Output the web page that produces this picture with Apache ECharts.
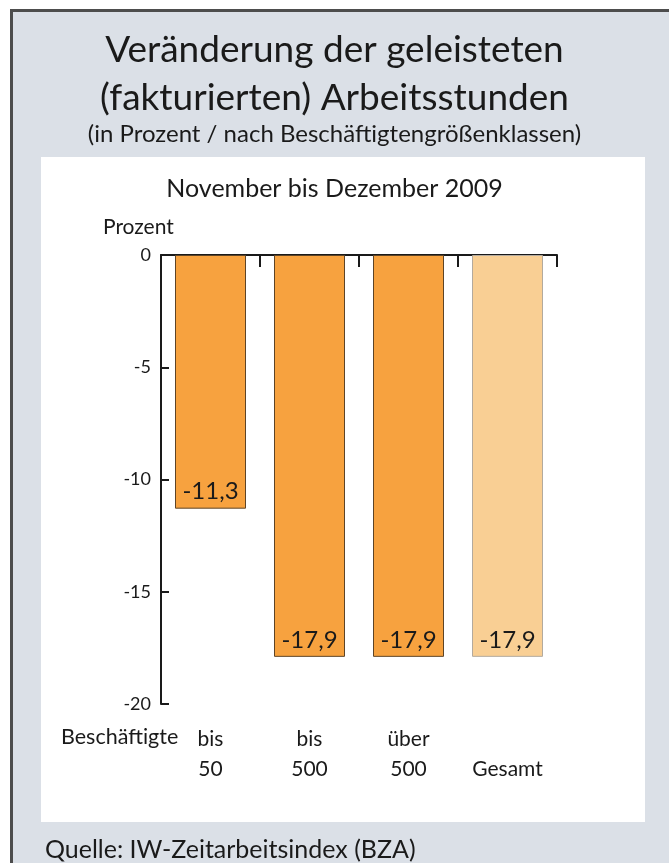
<!DOCTYPE html>
<html>
<head>
<meta charset="utf-8">
<script src="https://cdn.jsdelivr.net/npm/echarts@6/dist/echarts.min.js"></script>
<style>
  html, body { margin: 0; padding: 0; background: #fff; }
  #chart { width: 669px; height: 863px; }
</style>
</head>
<body>
<div id="chart"></div>
<script>
// Beschäftigtengrößenklassen
const categories = ['bis\n50', 'bis\n500', 'über\n500', '\nGesamt']
// Veränderung in Prozent
const values = [-11.3, -17.9, -17.9, -17.9]
const yTicks = { min: -20, max: 0, interval: 5 }
// the last bar (Gesamt) is drawn lighter
const totalIndex = 3

const FONT = 'Lato, "Open Sans", sans-serif'
const TEXT = '#1a1a1a'
const ORANGE = '#f7a23f'
const LIGHT = '#f9cf94'

const chart = echarts.init(document.getElementById('chart'))

chart.setOption({
  backgroundColor: '#fff',
  textStyle: { fontFamily: FONT },
  animation: false,
  title: [
    {
      text: 'Veränderung der geleisteten\n(fakturierten) Arbeitsstunden',
      left: 'center',
      top: 21,
      textStyle: { fontFamily: FONT, fontSize: 37, fontWeight: 'normal', color: TEXT, lineHeight: 48 }
    },
    {
      text: '(in Prozent / nach Beschäftigtengrößenklassen)',
      left: 'center',
      top: 117,
      textStyle: { fontFamily: FONT, fontSize: 24, fontWeight: 'normal', color: TEXT }
    },
    {
      text: 'November bis Dezember 2009',
      left: 'center',
      top: 171,
      textStyle: { fontFamily: FONT, fontSize: 25, fontWeight: 'normal', color: TEXT }
    },
    {
      text: 'Quelle: IW-Zeitarbeitsindex (BZA)',
      left: 40,
      top: 832,
      textStyle: { fontFamily: FONT, fontSize: 25, fontWeight: 'normal', color: TEXT }
    }
  ],
  graphic: [
    { type: 'rect', z: -10, shape: { x: 10, y: 9, width: 700, height: 900 }, style: { fill: '#dbe0e7' } },
    { type: 'rect', z: -9, shape: { x: 10, y: 9, width: 700, height: 3 }, style: { fill: '#4d4d4d' } },
    { type: 'rect', z: -9, shape: { x: 10, y: 9, width: 3, height: 900 }, style: { fill: '#4d4d4d' } },
    { type: 'rect', z: -8, shape: { x: 41, y: 157, width: 604, height: 665 }, style: { fill: '#fff' } },
    {
      type: 'text', left: 103, top: 217,
      style: { text: 'Prozent', font: '21px ' + FONT, fill: TEXT }
    },
    {
      type: 'text', left: 61, top: 726,
      style: { text: 'Beschäftigte', font: '21.5px ' + FONT, fill: TEXT }
    }
  ],
  grid: { left: 161, right: 112, top: 255, bottom: 159 },
  xAxis: [
    {
      type: 'category',
      position: 'top',
      data: categories,
      axisLine: { show: true, lineStyle: { color: TEXT, width: 2 } },
      axisTick: { show: true, inside: true, length: 12, alignWithLabel: false, lineStyle: { color: TEXT, width: 2 } },
      axisLabel: { show: false }
    },
    {
      type: 'category',
      position: 'bottom',
      data: categories,
      axisLine: { show: false },
      axisTick: { show: false },
      axisLabel: { margin: 20, fontSize: 21, lineHeight: 30, color: TEXT, fontFamily: FONT }
    }
  ],
  yAxis: {
    type: 'value',
    min: yTicks.min,
    max: yTicks.max,
    interval: yTicks.interval,
    axisLine: { show: true, lineStyle: { color: TEXT, width: 2 } },
    axisTick: { show: true, inside: true, length: 8, lineStyle: { color: TEXT, width: 2 } },
    axisLabel: { fontSize: 18, color: TEXT, margin: 10, fontFamily: FONT },
    splitLine: { show: false }
  },
  series: [{
    type: 'bar',
    xAxisIndex: 0,
    data: values.map((v, i) => (i === totalIndex
      ? { value: v, itemStyle: { color: LIGHT, borderColor: '#b3aa9e' } }
      : v)),
    barWidth: 71,
    itemStyle: {
      color: ORANGE,
      borderColor: '#5e4426',
      borderWidth: 1
    },
    label: {
      show: true,
      position: 'insideBottom',
      distance: 5,
      fontSize: 24,
      color: TEXT,
      fontFamily: FONT,
      formatter: (p) => String(p.value).replace('.', ',')
    }
  }]
})
</script>
</body>
</html>
